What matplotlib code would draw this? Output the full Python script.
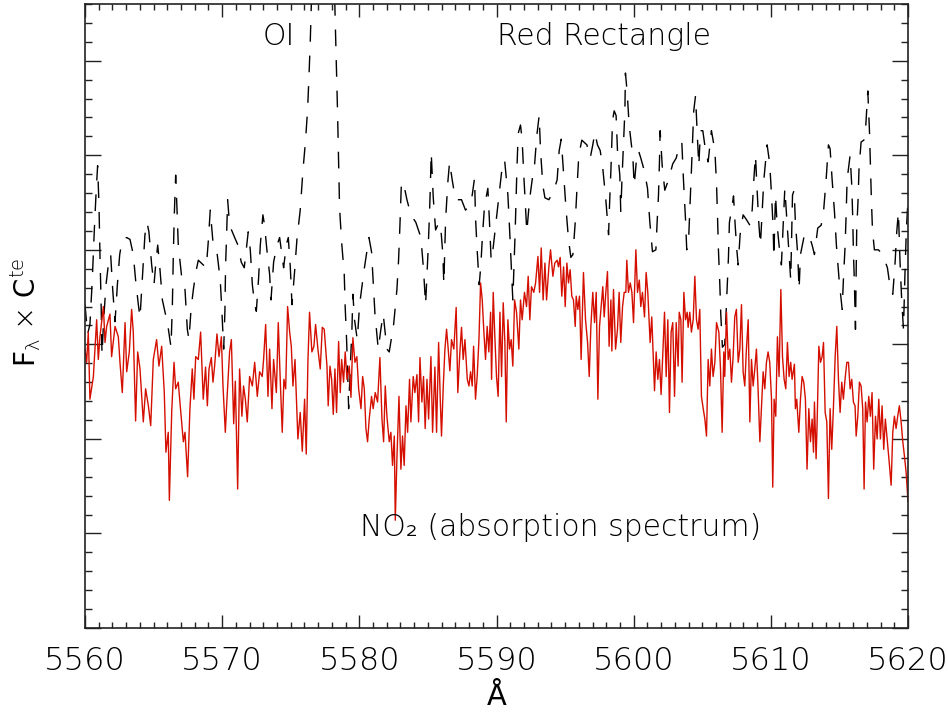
import matplotlib
matplotlib.use("Agg")
import matplotlib.pyplot as plt
from matplotlib.ticker import MultipleLocator

# NO2 absorption spectrum (red)
red_wave = [
    5560.00, 5560.12, 5560.24, 5560.36, 5560.61, 5560.85, 5560.97, 5561.09, 5561.34, 5561.46, 5561.58, 5561.82, 5561.94,
    5562.19, 5562.43, 5562.55, 5562.72, 5562.92, 5563.04, 5563.23, 5563.40, 5563.52, 5563.69, 5563.84, 5564.01, 5564.25,
    5564.42, 5564.62, 5564.79, 5564.98, 5565.22, 5565.39, 5565.59, 5565.78, 5565.90, 5566.07, 5566.15, 5566.32, 5566.49,
    5566.61, 5566.80, 5566.92, 5567.17, 5567.29, 5567.48, 5567.65, 5567.82, 5567.94, 5568.07, 5568.26, 5568.43, 5568.62,
    5568.79, 5568.92, 5569.04, 5569.21, 5569.33, 5569.45, 5569.62, 5569.77, 5569.94, 5570.06, 5570.23, 5570.35, 5570.54,
    5570.67, 5570.84, 5570.96, 5571.13, 5571.27, 5571.44, 5571.56, 5571.69, 5571.83, 5572.00, 5572.20, 5572.37, 5572.56,
    5572.73, 5572.92, 5573.02, 5573.17, 5573.34, 5573.46, 5573.63, 5573.75, 5573.95, 5574.09, 5574.24, 5574.38, 5574.50,
    5574.63, 5574.77, 5574.92, 5575.04, 5575.16, 5575.31, 5575.52, 5575.69, 5575.84, 5576.01, 5576.13, 5576.25, 5576.37,
    5576.54, 5576.69, 5576.81, 5576.98, 5577.15, 5577.30,
    5577.44, 5577.64, 5577.73, 5577.86, 5577.98, 5578.10, 5578.22, 5578.34, 5578.49, 5578.61, 5578.71, 5578.85, 5578.97,
    5579.10, 5579.27, 5579.39, 5579.53, 5579.68, 5579.82, 5579.95, 5580.12, 5580.24, 5580.36, 5580.48, 5580.60, 5580.72,
    5580.89, 5581.01, 5581.16, 5581.33, 5581.50, 5581.65, 5581.77, 5581.89, 5582.01, 5582.18, 5582.30, 5582.42, 5582.55,
    5582.62, 5582.74, 5582.89, 5583.03, 5583.15, 5583.27, 5583.40, 5583.52, 5583.66, 5583.76, 5583.93, 5584.05, 5584.20,
    5584.32, 5584.42, 5584.56, 5584.68, 5584.80, 5584.93, 5585.05, 5585.22, 5585.34, 5585.51, 5585.63, 5585.78, 5585.90,
    5585.99, 5586.12, 5586.24, 5586.36, 5586.48, 5586.60, 5586.72, 5586.89, 5587.06, 5587.18, 5587.33, 5587.45, 5587.57,
    5587.70, 5587.87, 5587.99, 5588.11, 5588.23, 5588.33, 5588.47, 5588.59, 5588.72, 5588.84, 5588.96, 5589.08, 5589.20,
    5589.32, 5589.44, 5589.57, 5589.64, 5589.76, 5589.88, 5590.00, 5590.12, 5590.25, 5590.37, 5590.49, 5590.61, 5590.71,
    5590.83, 5590.95, 5591.07, 5591.19, 5591.32, 5591.46, 5591.63, 5591.75, 5591.87, 5592.04, 5592.19, 5592.31, 5592.43,
    5592.55, 5592.72, 5592.85, 5593.02, 5593.14, 5593.26, 5593.40, 5593.53, 5593.65, 5593.82, 5593.94, 5594.11, 5594.25,
    5594.42,
    5594.52, 5594.64, 5594.76, 5594.89, 5595.01, 5595.13, 5595.25, 5595.37, 5595.49, 5595.61, 5595.74, 5595.81, 5595.93,
    5596.05, 5596.17, 5596.34, 5596.49, 5596.64, 5596.76, 5596.88, 5597.02, 5597.15, 5597.27, 5597.39, 5597.51, 5597.63,
    5597.75, 5597.85, 5597.97, 5598.09, 5598.21, 5598.34, 5598.41, 5598.53, 5598.68, 5598.82, 5598.94, 5599.06, 5599.19,
    5599.31, 5599.43, 5599.50, 5599.62, 5599.75, 5599.87, 5599.99, 5600.16, 5600.28, 5600.41, 5600.52, 5600.64, 5600.79,
    5600.91, 5601.03, 5601.20, 5601.32, 5601.52, 5601.64, 5601.76, 5601.88, 5602.00, 5602.13, 5602.25, 5602.37, 5602.49,
    5602.61, 5602.73, 5602.85, 5602.98, 5603.10,
    5603.24, 5603.32, 5603.44, 5603.53, 5603.66, 5603.78, 5603.90, 5603.97, 5604.09, 5604.21, 5604.34, 5604.46, 5604.58,
    5604.70, 5604.82, 5604.94, 5605.07, 5605.19, 5605.31, 5605.43, 5605.55, 5605.67, 5605.79, 5605.92, 5606.04, 5606.21,
    5606.33, 5606.45, 5606.57, 5606.64, 5606.77, 5606.89, 5607.01, 5607.13, 5607.25, 5607.37, 5607.49, 5607.62, 5607.74,
    5607.86, 5607.98, 5608.10, 5608.22, 5608.35, 5608.47, 5608.59, 5608.71, 5608.83, 5608.95, 5609.07, 5609.20, 5609.32,
    5609.44, 5609.56, 5609.68, 5609.80, 5609.92, 5610.05, 5610.14, 5610.24, 5610.36, 5610.48, 5610.60, 5610.73, 5610.85,
    5610.97, 5611.09, 5611.21, 5611.33, 5611.45, 5611.55,
    5611.72, 5611.79, 5611.89, 5612.04, 5612.16, 5612.28, 5612.40, 5612.52, 5612.64, 5612.77, 5612.89, 5613.01, 5613.11,
    5613.18, 5613.30, 5613.37, 5613.50, 5613.62, 5613.74, 5613.84, 5613.96, 5614.08, 5614.20, 5614.32, 5614.44, 5614.56,
    5614.69, 5614.81, 5614.93, 5615.05, 5615.17, 5615.29, 5615.41, 5615.54, 5615.66, 5615.78, 5615.90, 5616.02, 5616.14,
    5616.22, 5616.34, 5616.46, 5616.58, 5616.70, 5616.80, 5616.90, 5617.02, 5617.14, 5617.26, 5617.38, 5617.50, 5617.63,
    5617.75, 5617.87, 5617.99, 5618.11, 5618.23, 5618.35, 5618.48, 5618.65, 5618.77, 5618.89, 5619.01, 5619.13, 5619.25,
    5619.37, 5619.50, 5619.62, 5619.74, 5619.86, 5620.00,
]
red_flux = [
    2.95, 2.81, 3.13, 2.42, 2.66, 3.26, 2.84, 3.08, 3.40, 3.02, 3.19, 3.32, 2.87,
    3.19, 3.08, 2.81, 2.49, 3.23, 2.71, 2.92, 3.37, 3.13, 2.19, 2.92, 2.74, 2.18,
    2.53, 2.35, 2.14, 2.84, 3.05, 2.77, 2.98, 2.49, 1.86, 2.07, 1.35, 2.28, 2.81,
    2.53, 2.60, 2.39, 1.97, 2.07, 1.60, 2.32, 2.74, 2.42, 2.87, 2.84, 3.13, 2.42,
    2.76, 2.35, 2.74, 2.86, 2.60, 2.77, 3.11, 2.87, 3.08, 2.56, 2.07, 2.42, 2.92,
    3.05, 2.16, 2.61, 1.47, 2.74, 2.24, 2.56, 2.42, 2.18, 2.66, 2.56, 2.81, 2.45,
    2.71, 2.66, 2.84, 3.21, 2.45, 2.95, 2.32, 2.84, 2.49, 3.23, 2.60, 2.07, 2.63,
    2.53, 3.40, 3.13, 2.98, 2.56, 2.84, 2.00, 2.28, 1.87, 2.42, 1.84, 2.81, 3.34,
    2.92, 2.98, 3.21, 2.95, 2.74, 3.18,
    3.16, 2.77, 2.35, 2.77, 2.63, 2.26, 2.74, 2.28, 3.03, 2.49, 2.84, 2.60, 2.92,
    2.63, 2.77, 2.44, 3.07, 2.81, 2.87, 2.53, 2.32, 2.66, 2.53, 2.11, 1.97, 2.21,
    2.45, 2.32, 2.49, 2.39, 2.86, 2.21, 1.97, 2.56, 2.24, 1.97, 2.07, 1.72, 2.03,
    1.14, 1.79, 2.45, 1.68, 2.03, 1.72, 2.35, 2.07, 2.63, 2.18, 2.66, 2.49, 2.68,
    2.18, 2.86, 2.39, 2.66, 2.11, 2.63, 2.21, 2.87, 2.07, 2.76, 2.07, 3.02, 2.42,
    2.03, 2.56, 2.95, 3.16, 2.95, 2.72, 3.05, 2.95, 3.39, 2.49, 2.92, 3.18, 2.84,
    3.05, 2.63, 2.56, 2.71, 2.56, 2.98, 2.42, 2.66, 3.05, 3.65, 3.47, 3.13, 2.84,
    3.19, 2.92, 3.34, 2.63, 3.55, 3.08, 2.66, 2.45, 3.34, 2.66, 3.44, 3.02, 2.18,
    3.26, 2.95, 3.05, 2.77, 3.47, 3.34, 2.95, 3.47, 3.26, 3.55, 3.40, 3.72, 3.26,
    3.61, 3.55, 3.65, 3.93, 3.55, 4.02, 3.47, 3.86, 3.47, 3.82, 4.00, 3.72, 3.86,
    3.89,
    3.82, 3.92, 3.51, 3.82, 3.40, 3.86, 3.65, 3.79, 3.51, 3.47, 3.19, 3.51, 3.37,
    3.51, 2.84, 3.76, 3.26, 3.02, 2.66, 3.19, 3.55, 3.23, 3.55, 2.42, 3.19, 3.40,
    3.61, 3.29, 3.55, 3.77, 2.98, 3.47, 2.93, 3.58, 2.95, 3.16, 3.55, 3.02, 3.40,
    3.55, 3.55, 3.89, 3.55, 3.65, 3.55, 3.23, 4.00, 3.55, 3.68, 3.40, 3.55, 3.29,
    3.76, 3.55, 3.02, 3.29, 2.51, 2.92, 2.63, 2.84, 2.47, 2.92, 3.34, 2.66, 3.26,
    2.28, 3.13, 3.23, 2.45, 3.23,
    2.77, 3.34, 3.26, 2.60, 3.55, 3.26, 3.34, 3.18, 3.34, 3.13, 3.26, 3.72, 3.26,
    3.16, 3.37, 2.45, 2.32, 2.21, 2.03, 2.84, 2.56, 2.95, 2.66, 2.81, 3.23, 3.13,
    2.74, 2.07, 2.92, 2.66, 3.34, 2.84, 2.95, 2.60, 2.87, 3.29, 3.37, 2.81, 2.95,
    3.42, 2.71, 2.56, 2.95, 3.26, 2.18, 2.84, 2.56, 2.74, 2.95, 2.53, 1.97, 2.35,
    2.71, 2.53, 2.81, 2.92, 2.81, 2.42, 1.49, 2.42, 2.24, 3.08, 2.66, 3.58, 2.87,
    2.63, 2.53, 3.02, 2.66, 2.81, 2.63,
    2.79, 2.32, 2.42, 2.07, 2.42, 2.66, 2.60, 2.42, 1.68, 2.32, 1.97, 2.21, 1.86,
    2.39, 1.79, 2.14, 2.98, 2.81, 2.87, 3.02, 2.28, 2.18, 1.37, 2.32, 1.89, 2.32,
    2.87, 3.19, 2.63, 2.28, 2.60, 2.42, 2.63, 2.81, 2.81, 2.53, 2.63, 2.39, 2.35,
    2.03, 2.24, 2.60, 2.56, 2.32, 1.47, 2.39, 2.18, 2.45, 2.24, 2.49, 1.68, 2.24,
    2.00, 2.42, 2.00, 2.35, 1.89, 2.21, 2.00, 1.72, 1.51, 2.07, 2.24, 2.11, 2.24,
    2.35, 2.18, 1.97, 1.82, 1.65, 1.34,
]

# Red Rectangle spectrum (black dashed), OI 5577 line goes off scale
black_wave = [
    5560.00, 5560.19, 5560.36, 5560.53, 5560.68, 5560.80, 5560.92, 5561.02, 5561.09, 5561.17, 5561.24, 5561.36, 5561.53,
    5561.70, 5561.87, 5562.02, 5562.19, 5562.36, 5562.53, 5562.72, 5563.04, 5563.28, 5563.52, 5563.69, 5563.89, 5564.01,
    5564.13, 5564.25, 5564.37, 5564.52, 5564.66, 5564.86, 5565.03, 5565.17, 5565.30, 5565.44, 5565.64, 5566.03, 5566.27,
    5566.37, 5566.44, 5566.51, 5566.61, 5566.71, 5566.80, 5567.05, 5567.29, 5567.46, 5567.58, 5567.73, 5567.90, 5568.09,
    5568.26,
    5568.84, 5569.01, 5569.13, 5569.33, 5569.64, 5569.86, 5569.98, 5570.11, 5570.20, 5570.25, 5570.30, 5570.40, 5570.54,
    5570.91, 5571.15, 5571.39, 5571.61, 5571.90, 5572.05, 5572.20, 5572.37, 5572.49, 5572.66, 5572.78, 5572.97, 5573.09,
    5573.26, 5573.46, 5573.56, 5573.75, 5574.00, 5574.19, 5574.48, 5574.67, 5574.82, 5574.97, 5575.09, 5575.28, 5575.45,
    5575.69, 5575.89, 5576.08, 5576.23, 5576.33, 5576.42, 5576.50,
    5576.80, 5577.40, 5578.00,
    5578.22, 5578.29, 5578.34, 5578.41, 5578.46, 5578.51, 5578.56, 5578.71, 5578.90, 5578.97, 5579.07, 5579.14, 5579.22,
    5579.34, 5579.46, 5579.53, 5579.65, 5579.85, 5580.02, 5580.33, 5580.70, 5580.89, 5581.01, 5581.14, 5581.38, 5581.57,
    5581.74, 5582.01, 5582.18, 5582.50, 5582.74, 5582.86, 5582.96, 5583.06, 5583.20, 5583.47, 5583.76, 5584.12, 5584.49,
    5584.68, 5584.83, 5585.00, 5585.10, 5585.17, 5585.24, 5585.39, 5585.56, 5585.80,
    5585.95, 5586.09, 5586.16, 5586.29, 5586.46, 5586.58, 5586.77, 5587.01, 5587.45, 5587.74, 5588.06, 5588.23, 5588.40,
    5588.47, 5588.59, 5588.74, 5588.86, 5588.98, 5589.13, 5589.37, 5589.49, 5589.61, 5589.74, 5589.86, 5590.10, 5590.37,
    5590.59, 5590.83, 5590.95, 5591.07, 5591.19, 5591.36, 5591.49, 5591.58, 5591.75, 5591.87, 5591.99, 5592.12, 5592.21,
    5592.41, 5592.60, 5592.77, 5592.94, 5593.11, 5593.21, 5593.38, 5593.53, 5593.82, 5594.18, 5594.42,
    5594.57, 5594.72, 5594.89, 5595.06, 5595.25, 5595.42, 5595.57, 5595.74, 5595.86, 5596.00, 5596.22, 5596.59, 5596.83,
    5597.02, 5597.17, 5597.36, 5597.56, 5597.75, 5597.97, 5598.17, 5598.24, 5598.34, 5598.46, 5598.58, 5598.72, 5598.82,
    5598.99, 5599.06, 5599.16, 5599.26, 5599.36, 5599.40, 5599.53, 5599.67, 5599.94, 5600.04, 5600.23, 5600.35, 5600.52,
    5600.77, 5601.01, 5601.18, 5601.37, 5601.62, 5601.71, 5601.81, 5601.88, 5601.93, 5602.08, 5602.27, 5602.54, 5602.85,
    5603.10,
    5603.24, 5603.51, 5603.63, 5603.78, 5603.87, 5604.02, 5604.14, 5604.21, 5604.29, 5604.38, 5604.51, 5604.63, 5604.75,
    5604.87, 5605.04, 5605.24, 5605.43, 5605.67, 5605.92, 5606.04, 5606.11, 5606.18, 5606.28, 5606.35, 5606.47, 5606.64,
    5606.81, 5606.91, 5606.98, 5607.13, 5607.28, 5607.40, 5607.52, 5607.62, 5607.76, 5607.98, 5608.22, 5608.47, 5608.64,
    5608.76, 5608.88, 5609.00, 5609.12, 5609.24, 5609.37, 5609.49, 5609.73, 5609.92, 5610.05, 5610.17, 5610.22, 5610.34,
    5610.46, 5610.60, 5610.77, 5610.90, 5611.02, 5611.19, 5611.33, 5611.45, 5611.58,
    5611.70, 5611.79, 5611.96, 5612.06, 5612.16, 5612.45, 5612.77, 5613.01, 5613.18, 5613.42, 5613.67, 5613.84, 5614.03,
    5614.20, 5614.32, 5614.47, 5614.64, 5614.78, 5614.98, 5615.20, 5615.29, 5615.41, 5615.49, 5615.56, 5615.78, 5615.90,
    5615.97, 5616.02, 5616.09, 5616.14, 5616.17, 5616.26, 5616.36, 5616.43, 5616.58, 5616.78, 5616.90, 5617.07, 5617.19,
    5617.26, 5617.33, 5617.41, 5617.55, 5617.84, 5618.16, 5618.50, 5618.72, 5618.89, 5619.06, 5619.18, 5619.30, 5619.42,
    5619.54, 5619.67, 5619.79, 5619.88, 5620.00,
]
black_flux = [
    3.42, 3.11, 3.21, 3.68, 4.21, 4.58, 4.89, 4.47, 3.95, 3.47, 2.89, 3.26, 3.63,
    3.84, 3.95, 3.58, 3.24, 3.63, 3.95, 4.11, 4.13, 4.11, 3.95, 3.68, 3.42, 3.28,
    3.58, 3.87, 4.16, 4.29, 4.19, 3.84, 3.63, 3.87, 4.05, 3.84, 3.47, 3.21, 2.97,
    3.42, 3.95, 4.37, 4.79, 4.42, 4.05, 3.71, 3.58, 3.16, 3.05, 3.37, 3.58, 3.77,
    3.89,
    3.81, 4.13, 4.42, 4.08, 3.95, 3.68, 3.35, 2.95, 3.35, 3.84, 4.05, 4.53, 4.26,
    4.13, 4.05, 3.87, 3.81, 4.19, 4.00, 3.63, 3.42, 3.35, 3.71, 4.05, 4.37, 4.26,
    4.00, 3.74, 3.47, 3.87, 4.05, 4.13, 3.81, 4.05, 4.13, 3.81, 3.42, 3.77, 4.11,
    4.42, 4.84, 5.16, 5.49, 5.84, 6.19, 6.58,
    8.50, 9.20, 8.50,
    6.55, 6.16, 5.84, 5.47, 5.13, 4.79, 4.44, 4.08, 3.74, 3.39, 3.05, 2.74, 2.32,
    2.76, 3.16, 3.53, 3.26, 3.05, 3.42, 3.77, 4.13, 3.98, 3.66, 3.32, 2.95, 3.16,
    3.32, 2.95, 2.92, 3.21, 3.58, 3.89, 4.26, 4.68, 4.72, 4.53, 4.37, 4.29, 4.13,
    3.79, 3.42, 3.95, 4.32, 4.63, 5.03, 4.55, 4.21, 4.29,
    4.21, 3.95, 3.64, 4.32, 4.73, 4.93, 4.74, 4.53, 4.53, 4.42, 4.47, 4.58, 4.76,
    4.34, 4.00, 3.63, 3.84, 4.16, 4.47, 4.65, 4.29, 3.89, 4.00, 4.16, 4.47, 4.82,
    4.95, 4.58, 4.23, 3.85, 3.47, 4.19, 4.86, 5.23, 5.32, 5.16, 4.79, 4.44, 4.19,
    4.53, 4.74, 4.89, 5.21, 5.42, 5.05, 4.68, 4.55, 4.53, 4.63, 4.74,
    5.05, 5.17, 4.81, 4.45, 4.11, 3.92, 3.95, 4.29, 4.63, 5.00, 5.16, 5.11, 4.97,
    5.11, 5.24, 5.11, 5.05, 4.86, 4.53, 4.16, 4.47, 4.84, 5.37, 5.47, 5.42, 5.05,
    4.79, 4.40, 4.79, 5.14, 5.47, 5.87, 5.66, 5.32, 4.98, 4.68, 5.00, 5.05, 4.97,
    4.84, 4.65, 4.29, 3.98, 4.00, 4.29, 4.58, 4.93, 5.26, 4.89, 4.63, 4.74, 4.91,
    4.97,
    5.05, 5.14, 4.74, 4.32, 4.00, 4.16, 4.58, 4.84, 5.14, 5.47, 5.63, 5.24, 4.89,
    5.26, 5.26, 5.05, 4.93, 5.26, 5.05, 4.70, 4.37, 4.00, 3.64, 3.32, 2.97, 3.00,
    3.58, 3.92, 4.29, 4.42, 4.57, 4.26, 4.00, 3.84, 4.16, 4.37, 4.32, 4.26, 4.42,
    4.74, 5.00, 4.63, 4.29, 4.05, 4.42, 4.74, 5.11, 4.91, 4.58, 4.23, 3.92, 4.58,
    4.26, 4.05, 3.84, 4.26, 4.65, 4.26, 3.95, 3.68, 4.58,
    4.63, 4.29, 3.95, 3.58, 3.95, 4.16, 4.16, 4.05, 3.95, 4.23, 4.26, 4.40, 4.74,
    5.11, 5.07, 4.74, 4.40, 4.05, 3.68, 3.37, 3.68, 4.03, 4.37, 4.74, 5.00, 4.68,
    4.34, 3.98, 3.66, 3.32, 3.16, 4.21, 4.53, 4.86, 5.14, 5.16, 5.26, 5.68, 5.26,
    4.89, 4.54, 4.21, 4.00, 4.00, 3.95, 3.81, 3.58, 3.53, 3.87, 4.19, 4.40, 3.87,
    3.47, 3.16, 3.81, 4.21, 4.53,
]

x_ticks = [5560, 5570, 5580, 5590, 5600, 5610, 5620]

plt.rcParams["font.family"] = ["DejaVu Sans"]
plt.rcParams["font.weight"] = "light"
plt.rcParams["mathtext.fontset"] = "custom"
plt.rcParams["mathtext.rm"] = "DejaVu Sans:light"
plt.rcParams["mathtext.it"] = "DejaVu Sans:light"

fig = plt.figure(figsize=(9.48, 7.15), dpi=100)
ax = fig.add_axes([85 / 948, 87 / 715, 823 / 948, 624 / 715])

ax.plot(black_wave, black_flux, color="black", lw=1.0, dashes=(12, 10))
ax.plot(red_wave, red_flux, color="#d40f00", lw=1.0)

ax.set_xlim(5560, 5620)
ax.set_ylim(0, 6.6)
ax.set_xticks(x_ticks)
ax.xaxis.set_minor_locator(MultipleLocator(1))
ax.yaxis.set_major_locator(MultipleLocator(1))
ax.yaxis.set_minor_locator(MultipleLocator(0.2))
ax.set_yticklabels([])
ax.tick_params(which="both", direction="in", top=True, right=True, width=1.0, color="#222222")
ax.tick_params(axis="x", which="major", length=9.5, pad=13, labelsize=23)
ax.tick_params(axis="x", which="minor", length=4.3)
ax.tick_params(axis="y", which="major", length=11.5)
ax.tick_params(axis="y", which="minor", length=5)
for sp in ax.spines.values():
    sp.set_linewidth(1.2)
    sp.set_color("#222222")

ax.set_xlabel("Å", fontsize=21, labelpad=5)
ax.set_ylabel(r"F$_\lambda$ $\times$ C$^{te}$", fontsize=20, va="center")
ax.yaxis.set_label_coords(-0.073, 0.506)

ax.text(5572.97, 6.17, "OI", fontsize=21.5, ha="left", va="baseline")
ax.text(5590.03, 6.17, "Red Rectangle", fontsize=21.5, ha="left", va="baseline")
ax.text(5580.04, 0.97, "NO₂ (absorption spectrum)", fontsize=21.5, ha="left", va="baseline")

fig.savefig("out.png", dpi=100)
